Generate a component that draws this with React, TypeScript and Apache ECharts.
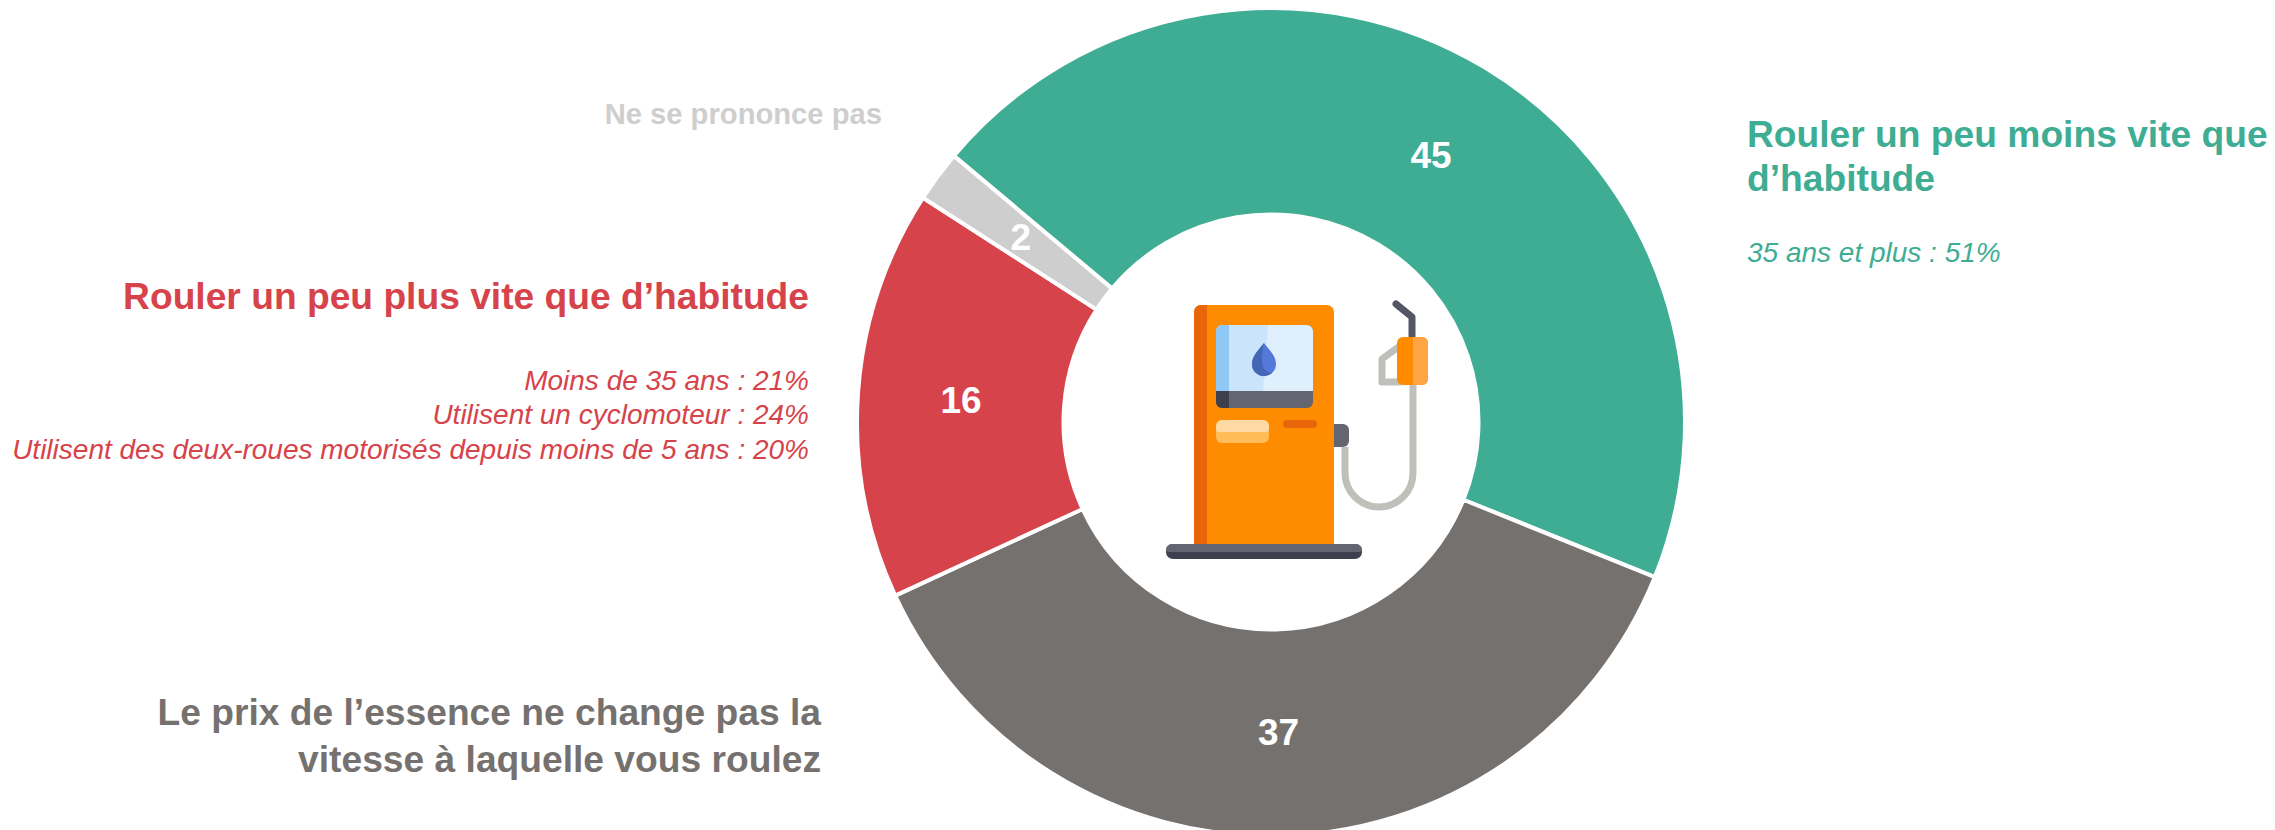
import React, { useEffect, useRef } from "react";
import * as echarts from "echarts";

const categories = [
  "Rouler un peu moins vite que d’habitude",
  "Le prix de l’essence ne change pas la vitesse à laquelle vous roulez",
  "Rouler un peu plus vite que d’habitude",
  "Ne se prononce pas",
];
const values = [45, 37, 16, 2];
const colors = ["#3EAD94", "#75716F", "#D7434A", "#CFCECE"];

const greenTitle = ["Rouler un peu moins vite que", "d’habitude"];
const greenNotes = ["35 ans et plus : 51%"];
const redTitle = ["Rouler un peu plus vite que d’habitude"];
const redNotes = [
  "Moins de 35 ans : 21%",
  "Utilisent un cyclomoteur : 24%",
  "Utilisent des deux-roues motorisés depuis moins de 5 ans : 20%",
];
const greyTitle = ["Le prix de l’essence ne change pas la", "vitesse à laquelle vous roulez"];
const lightTitle = ["Ne se prononce pas"];

const FONT = '"Liberation Sans", Arial, sans-serif';
const CX = 1271;
const CY = 422;

echarts.graphic.registerShape(
  "hose",
  echarts.graphic.extendPath("M1345 447 L1345 473 A34 34 0 0 0 1413 473 L1413 385", {})
);
echarts.graphic.registerShape(
  "drop",
  echarts.graphic.extendPath("M1264 343 C1270 351 1276 356 1276 364 A12 12 0 0 1 1252 364 C1252 356 1258 351 1264 343 Z", {})
);
echarts.graphic.registerShape(
  "dropShade",
  echarts.graphic.extendPath("M1264 343 C1258 351 1252 356 1252 364 A12 12 0 0 0 1272 373 C1264 372 1262 366 1262 360 C1262 354 1263 349 1264 343 Z", {})
);

function text(x: number, y: number, t: string, color: string, align: string, size: number, bold: boolean) {
  return {
    type: "text",
    x,
    y,
    silent: true,
    style: {
      text: t,
      fill: color,
      align,
      verticalAlign: "middle",
      fontFamily: FONT,
      fontSize: size,
      fontWeight: bold ? "bold" : "normal",
      fontStyle: bold ? "normal" : "italic",
    },
  };
}

function rect(x: number, y: number, w: number, h: number, fill: string, r: any = 0) {
  return { type: "rect", silent: true, shape: { x, y, width: w, height: h, r }, style: { fill } };
}

function line(points: number[][], stroke: string, w: number) {
  return {
    type: "polyline",
    silent: true,
    shape: { points },
    style: { stroke, lineWidth: w, fill: "none", lineCap: "round", lineJoin: "round" },
  };
}

const pump = [
  { type: "hose", silent: true, style: { stroke: "#BEC0B9", lineWidth: 7, fill: "none" } },
  line([[1397, 348], [1382, 359], [1382, 382], [1400, 382]], "#BEC0B9", 7),
  line([[1396, 304], [1412, 317], [1412, 337]], "#545664", 7),
  rect(1397, 337, 31, 48, "#FF8C00", 6),
  rect(1413, 337, 15, 48, "#FFA545", [0, 6, 6, 0]),
  rect(1334, 424, 15, 23, "#636570", [0, 6, 6, 0]),
  rect(1194, 305, 140, 242, "#FF8C00", [7, 7, 0, 0]),
  rect(1194, 305, 13, 242, "#E8650A", [7, 0, 0, 0]),
  rect(1216, 325, 97, 83, "#636570", 6),
  rect(1216, 391, 13, 17, "#3F404E", [0, 0, 0, 6]),
  rect(1216, 325, 97, 66, "#DFEFFB", [6, 6, 0, 0]),
  { type: "polygon", silent: true, shape: { points: [[1229, 325], [1268, 325], [1263, 391], [1229, 391]] }, style: { fill: "#C9E4FB" } },
  rect(1216, 325, 13, 66, "#90C8F5", [6, 0, 0, 0]),
  { type: "drop", silent: true, style: { fill: "#5578DB" } },
  { type: "dropShade", silent: true, style: { fill: "#4467B5" } },
  rect(1216, 420, 53, 23, "#FFBC58", 6),
  rect(1216, 420, 53, 12, "#FFD9A3", [6, 6, 3, 3]),
  rect(1283, 420, 34, 8, "#E8650A", 4),
  rect(1166, 544, 196, 15, "#3F404E", 7),
  rect(1166, 544, 196, 8, "#636570", [7, 7, 3, 3]),
];

export default function App() {
  const ref = useRef<HTMLDivElement>(null);
  useEffect(() => {
    document.body.style.margin = "0";
    document.body.style.overflow = "hidden";
    const chart = echarts.init(ref.current!, null, { renderer: "svg" });
    chart.setOption({
      animation: false,
      backgroundColor: "#ffffff",
      series: [
        {
          type: "pie",
          center: [CX, CY],
          radius: [207.5, 414],
          startAngle: 140,
          clockwise: true,
          silent: true,
          avoidLabelOverlap: false,
          emphasis: { disabled: true },
          itemStyle: { borderColor: "#ffffff", borderWidth: 4 },
          label: {
            show: true,
            position: "inside",
            formatter: "{c}",
            color: "#ffffff",
            fontFamily: FONT,
            fontWeight: "bold",
            fontSize: 37,
          },
          labelLayout: (p: any) => {
            const r = p.labelRect;
            const dx = r.x + r.width / 2 - CX;
            const dy = r.y + r.height / 2 - CY;
            const d = Math.hypot(dx, dy) || 1;
            return { dx: (-3 * dx) / d, dy: (-3 * dy) / d };
          },
          labelLine: { show: false },
          data: categories.map((name, i) => ({
            name,
            value: values[i],
            itemStyle: { color: colors[i] },
          })),
        },
      ],
      graphic: [
        ...lightTitle.map((t) => text(882, 114, t, colors[3], "right", 29.2, true)),
        ...redTitle.map((t) => text(809, 296, t, colors[2], "right", 37.2, true)),
        ...redNotes.map((t, i) => text(809, 380 + i * 34.5, t, colors[2], "right", 28, false)),
        ...greyTitle.map((t, i) => text(821, 712 + i * 47, t, colors[1], "right", 37.2, true)),
        ...greenTitle.map((t, i) => text(1747, 134 + i * 44, t, colors[0], "left", 37.2, true)),
        ...greenNotes.map((t) => text(1747, 252, t, colors[0], "left", 28, false)),
        ...pump,
      ],
    });
    return () => chart.dispose();
  }, []);
  return <div ref={ref} style={{ position: "fixed", left: 0, top: 0, width: 2275, height: 830 }} />;
}
